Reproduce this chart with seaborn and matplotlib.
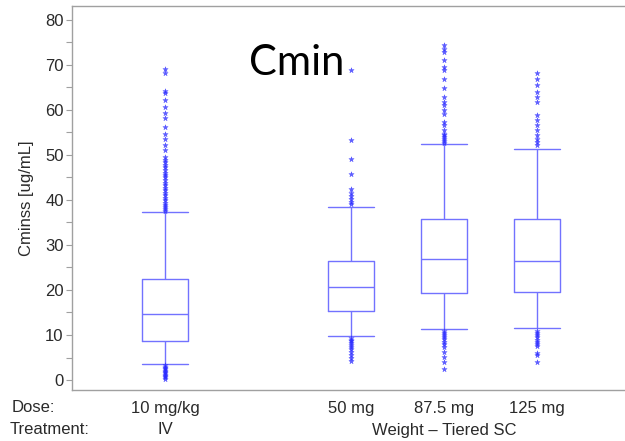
import numpy as np
import pandas as pd
import matplotlib
matplotlib.use("Agg")
import matplotlib.pyplot as plt
import matplotlib.transforms as mtransforms
import seaborn as sns

# Dose groups and their x positions (gap between IV and SC arms)
doses = ["10 mg/kg", "50 mg", "87.5 mg", "125 mg"]
positions = [1, 3, 4, 5]
treatments = ["IV", "Weight \u2013 Tiered SC"]
treatment_pos = [1, 4]

# Box summaries per dose: lower whisker, Q1, median, Q3, upper whisker
lower_whisker = [3.5, 9.8, 11.3, 11.6]
q1 = [8.6, 15.3, 19.3, 19.6]
median = [14.6, 20.6, 26.8, 26.5]
q3 = [22.5, 26.5, 35.7, 35.7]
upper_whisker = [37.3, 38.4, 52.3, 51.2]

# Outlying Cminss values per dose
outliers_iv = [69.1, 68.1, 64.1, 63.6, 62.1, 60.6, 59.3, 58.2, 56.2, 54.7, 53.4,
               52.1, 51.1, 49.5, 48.9, 48.3, 47.8, 47.2, 46.6, 46.0, 45.5, 45.0,
               44.4, 43.8, 43.3, 42.7, 42.2, 41.6, 41.0, 40.5, 39.9, 39.4, 38.9,
               38.4, 37.9, 37.6,
               3.3, 3.0, 2.7, 2.4, 2.1, 1.8, 1.5, 1.2, 0.9, 0.6, 0.3]
outliers_50 = [68.7, 53.3, 49.1, 45.7, 42.3, 41.6, 40.9, 40.2, 39.5, 39.0,
               9.4, 9.0, 8.6, 8.2, 7.8, 7.3, 6.8, 6.2, 5.6, 5.0, 4.2]
outliers_875 = [74.3, 73.5, 72.8, 71.0, 69.5, 68.7, 66.9, 64.7, 62.8, 61.7, 61.0,
                59.9, 59.1, 57.3, 56.5, 55.4, 54.7, 54.3, 53.9, 53.5, 53.1, 52.7,
                10.9, 10.5, 10.1, 9.6, 9.1, 8.5, 8.0, 7.4, 6.3, 5.2, 4.1, 2.4]
outliers_125 = [68.2, 66.9, 65.4, 63.9, 62.8, 61.7, 58.8, 57.6, 56.5, 55.4, 54.3,
                53.6, 52.8, 52.1,
                11.0, 10.5, 10.0, 9.5, 9.0, 8.5, 8.0, 7.5, 5.9, 5.6, 4.1]
outliers = [outliers_iv, outliers_50, outliers_875, outliers_125]

box_df = pd.DataFrame({
    "pos": np.repeat(positions, 5),
    "value": np.ravel(np.column_stack([lower_whisker, q1, median, q3, upper_whisker])),
})
out_df = pd.DataFrame({
    "pos": np.concatenate([[p] * len(o) for p, o in zip(positions, outliers)]),
    "value": np.concatenate(outliers),
})

sns.set_style("ticks")
plt.rcParams["font.family"] = ["Liberation Sans Narrow", "Liberation Sans", "DejaVu Sans"]

line_blue = "#7272ff"
mark_blue = "#2a2aff"
frame_gray = "#a0a0a0"
text_col = "#2a2a2a"
fs = 12

fig = plt.figure(figsize=(6.25, 4.41), dpi=100)
ax = fig.add_axes([72 / 625, 51 / 441, 558 / 625, 384 / 441])

sns.boxplot(data=box_df, x="pos", y="value", native_scale=True, whis=(0, 100),
            showfliers=False, width=0.5, fill=False, color=line_blue,
            linewidth=1.0, capwidths=0.5, ax=ax)
sns.scatterplot(data=out_df, x="pos", y="value", marker="*", s=16,
                color=mark_blue, edgecolor=mark_blue, linewidth=0.3,
                alpha=0.75, ax=ax, zorder=3)

ax.set_xlim(0, 6)
ax.set_ylim(-2.2, 83)
ax.set_yticks(np.arange(0, 81, 10))
ax.set_yticks(np.arange(5, 80, 10), minor=True)
ax.tick_params(axis="y", which="both", length=4, width=0.8, color=frame_gray,
               labelsize=fs, labelcolor=text_col, pad=2)
ax.set_xticks([])
ax.set_xlabel("")
ax.set_ylabel("Cminss [ug/mL]", fontsize=fs, color=text_col, labelpad=8)
for s in ax.spines.values():
    s.set_color(frame_gray)
    s.set_linewidth(1.0)
ax.spines["right"].set_visible(False)

# Two-row category labels beneath the axis
trans = mtransforms.blended_transform_factory(ax.transData, fig.transFigure)
fig.text(12 / 625, 1 - 408 / 441, "Dose:", fontsize=fs, color=text_col,
         va="center", ha="left")
fig.text(10 / 625, 1 - 430 / 441, "Treatment:", fontsize=fs, color=text_col,
         va="center", ha="left")
for p, d in zip(positions, doses):
    ax.text(p, 1 - 408 / 441, d, transform=trans, fontsize=fs,
            color=text_col, ha="center", va="center")
for p, t in zip(treatment_pos, treatments):
    ax.text(p, 1 - 430 / 441, t, transform=trans, fontsize=fs,
            color=text_col, ha="center", va="center")

ax.text(2.42, 70.3, "Cmin", fontsize=30, family=["Lato", "DejaVu Sans"],
        color="black", ha="center", va="center")

fig.savefig("out.png", dpi=100)
